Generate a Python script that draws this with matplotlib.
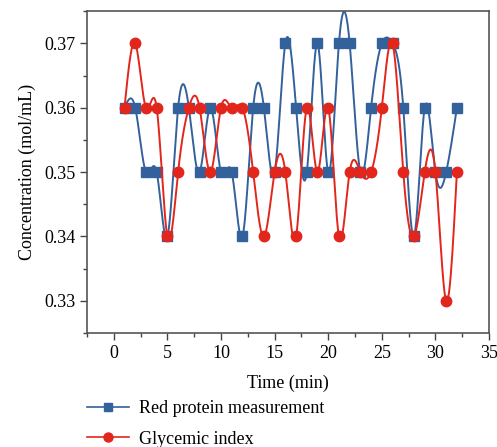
import numpy as np
import matplotlib.pyplot as plt
from matplotlib.lines import Line2D

plt.rcParams['font.family'] = ['Liberation Serif', 'DejaVu Serif']

# data
time = list(range(1, 33))
red_protein = [0.36, 0.36, 0.35, 0.35, 0.34, 0.36, 0.36, 0.35, 0.36, 0.35,
               0.35, 0.34, 0.36, 0.36, 0.35, 0.37, 0.36, 0.35, 0.37, 0.35,
               0.37, 0.37, 0.35, 0.36, 0.37, 0.37, 0.36, 0.34, 0.36, 0.35,
               0.35, 0.36]
glycemic = [0.36, 0.37, 0.36, 0.36, 0.34, 0.35, 0.36, 0.36, 0.35, 0.36,
            0.36, 0.36, 0.35, 0.34, 0.35, 0.35, 0.34, 0.36, 0.35, 0.36,
            0.34, 0.35, 0.35, 0.35, 0.36, 0.37, 0.35, 0.34, 0.35, 0.35,
            0.33, 0.35]

blue = '#33619b'
red = '#e2261c'


# natural cubic spline, like the smooth connecting line in the original
def spline(x, y, n=40):
    x = np.asarray(x, float)
    y = np.asarray(y, float)
    k = len(x)
    h = np.diff(x)
    A = np.zeros((k, k))
    b = np.zeros(k)
    A[0, 0] = 1
    A[-1, -1] = 1
    for i in range(1, k - 1):
        A[i, i - 1] = h[i - 1]
        A[i, i] = 2 * (h[i - 1] + h[i])
        A[i, i + 1] = h[i]
        b[i] = 6 * ((y[i + 1] - y[i]) / h[i] - (y[i] - y[i - 1]) / h[i - 1])
    M = np.linalg.solve(A, b)
    xs, ys = [], []
    for i in range(k - 1):
        t = np.linspace(x[i], x[i + 1], n, endpoint=False)
        a = x[i + 1] - t
        c = t - x[i]
        s = (M[i] * a ** 3 + M[i + 1] * c ** 3) / (6 * h[i]) \
            + (y[i] / h[i] - M[i] * h[i] / 6) * a \
            + (y[i + 1] / h[i] - M[i + 1] * h[i] / 6) * c
        xs.extend(t)
        ys.extend(s)
    xs.append(x[-1])
    ys.append(y[-1])
    return np.array(xs), np.array(ys)


fig = plt.figure(figsize=(4.97, 4.47), dpi=100)
ax = fig.add_axes([0.175, 0.255, 0.809, 0.72])

sx, sy = spline(time, red_protein)
ax.plot(sx, sy, color=blue, lw=1.4, zorder=2)
ax.plot(time, red_protein, 's', color=blue, ms=6.5, zorder=3)

sx, sy = spline(time, glycemic)
ax.plot(sx, sy, color=red, lw=1.4, zorder=4)
ax.plot(time, glycemic, 'o', color=red, ms=7.5, zorder=5)

ax.set_xlim(-2.5, 35)
ax.set_ylim(0.325, 0.375)
ax.set_xticks(range(0, 36, 5))
ax.set_xticks(np.arange(-2.5, 35.1, 2.5), minor=True)
ax.set_yticks([0.33, 0.34, 0.35, 0.36, 0.37])
ax.set_yticks(np.arange(0.325, 0.3751, 0.005), minor=True)
ax.tick_params(which='major', direction='out', length=5, width=1,
               color='#444444', labelsize=13)
ax.tick_params(which='minor', direction='out', length=3, width=1,
               color='#444444')
for s in ax.spines.values():
    s.set_color('#555555')
    s.set_linewidth(1.2)

ax.set_xlabel('Time (min)', fontsize=13, labelpad=9)
ax.set_ylabel('Concentration (mol/mL)', fontsize=13, labelpad=6)

handles = [
    Line2D([], [], color=blue, lw=1.2, marker='s', ms=6),
    Line2D([], [], color=red, lw=1.2, marker='o', ms=6.5),
]
fig.legend(handles, ['Red protein measurement', 'Glycemic index'],
           loc='upper left', bbox_to_anchor=(0.157, 0.125), frameon=False,
           fontsize=13, handlelength=2.3, handletextpad=0.6, labelspacing=0.75,
           borderpad=0)

fig.savefig('out.png', dpi=100)
